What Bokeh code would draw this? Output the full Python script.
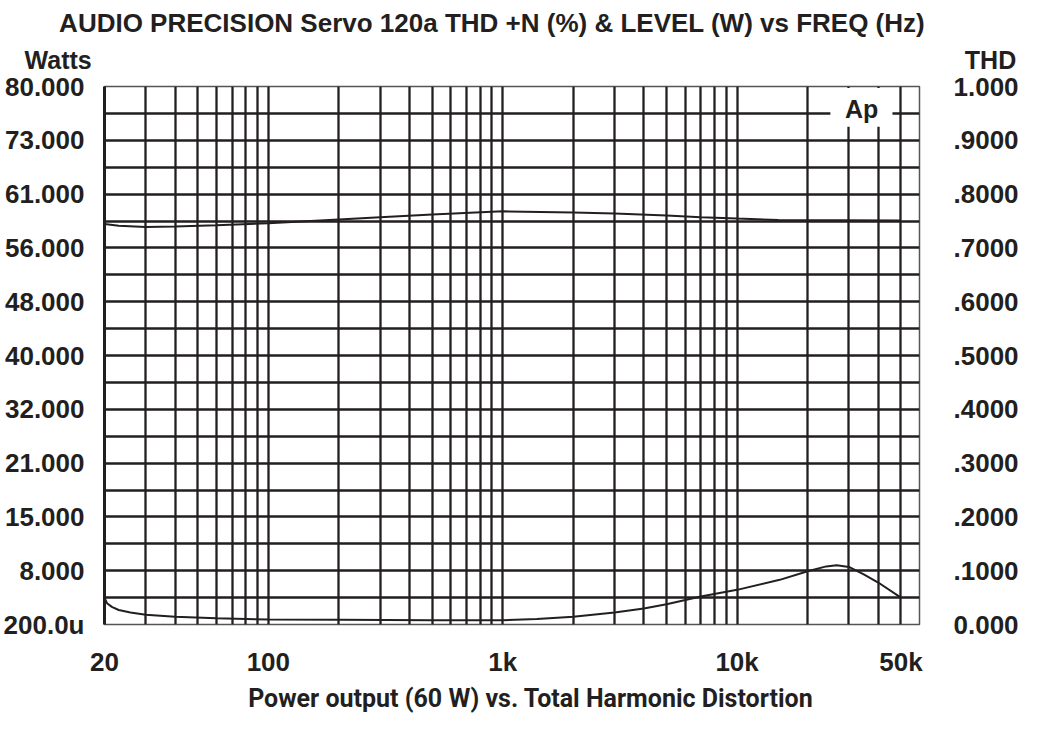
from bokeh.plotting import figure
from bokeh.models import FixedTicker, LinearAxis, Label, BoxAnnotation, Range1d
from bokeh.embed import file_html
from bokeh.resources import INLINE

# ---------------- data ----------------
level_freq = [20, 23, 30, 40, 60, 100, 200, 300, 500, 1000, 2000, 3000, 5000, 7000, 10000, 15000, 50000]
level_val = [0.7445, 0.741, 0.739, 0.740, 0.742, 0.746, 0.753, 0.757, 0.762, 0.768, 0.766, 0.764,
             0.760, 0.757, 0.7545, 0.752, 0.751]

thd_freq = [20, 20.5, 21.5, 23, 25.8, 30, 40, 60, 100, 200, 500, 1000, 1400, 2000, 3000, 4000, 5000,
            7000, 10000, 15200, 20000, 24000, 26600, 30000, 34700, 40000, 50000]
thd_val = [0.050, 0.0396, 0.0328, 0.027, 0.0223, 0.018, 0.0143, 0.0117, 0.0093, 0.0087, 0.008, 0.008,
           0.010, 0.0143, 0.0223, 0.0297, 0.0377, 0.052, 0.0644, 0.083, 0.099, 0.108, 0.110, 0.107,
           0.093, 0.078, 0.050]

x_tick_vals = [20, 100, 1000, 10000, 50000]
x_tick_labels = ["20", "100", "1k", "10k", "50k"]

y_tick_vals = [0.0, 0.1, 0.2, 0.3, 0.4, 0.5, 0.6, 0.7, 0.8, 0.9, 1.0]
watts_labels = ["200.0u", "8.000", "15.000", "21.000", "32.000", "40.000", "48.000", "56.000",
                "61.000", "73.000", "80.000"]
thd_labels = ["0.000", ".1000", ".2000", ".3000", ".4000", ".5000", ".6000", ".7000", ".8000",
              ".9000", "1.000"]

title_text = "AUDIO PRECISION Servo 120a  THD +N (%) & LEVEL (W) vs FREQ (Hz)"
left_unit = "Watts"
right_unit = "THD"
caption_text = "Power output (60 W) vs. Total Harmonic Distortion"

# ---------------- layout / styling ----------------
INK = "#231f20"
FONT = "Liberation Sans"
X0, X1 = 20, 60000
BL, BR, BT, BB = 95, 100, 85, 90          # borders round the frame
W, H = 1021, 714
FW, FH = W - BL - BR, H - BT - BB         # frame size (826 x 539)


def fx(px):
    """page-pixel column -> x data coordinate (for placing annotation texts)"""
    return X0 * (X1 / X0) ** ((px - 8 - BL) / FW)


def fy(py):
    """page-pixel row -> y data coordinate (for placing annotation texts)"""
    return (8 + BT + FH - py) / FH


grid_freqs = [m * 10 ** e for e in range(1, 5) for m in range(1, 10) if 20 <= m * 10 ** e <= 50000]
grid_y = [i / 20 for i in range(1, 20)]

p = figure(width=W, height=H, x_axis_type="log",
           x_range=Range1d(X0, X1), y_range=Range1d(0, 1),
           output_backend="svg", toolbar_location=None,
           min_border_left=BL, min_border_right=BR, min_border_top=BT, min_border_bottom=BB)
p.background_fill_color = "white"
p.border_fill_color = "white"
p.outline_line_color = "#555555"
p.outline_line_width = 1.5

p.xgrid.ticker = FixedTicker(ticks=grid_freqs)
p.ygrid.ticker = FixedTicker(ticks=grid_y)
for g in (p.xgrid, p.ygrid):
    g.grid_line_color = INK
    g.grid_line_width = 2.3
    g.grid_line_alpha = 1.0


def style_axis(ax, standoff):
    ax.major_tick_line_color = None
    ax.minor_tick_line_color = None
    ax.major_label_standoff = standoff
    ax.major_label_text_font = FONT
    ax.major_label_text_font_style = "bold"
    ax.major_label_text_font_size = "26px"
    ax.major_label_text_color = INK


xa = p.xaxis[0]
xa.ticker = FixedTicker(ticks=x_tick_vals)
xa.major_label_overrides = {v: s for v, s in zip(x_tick_vals, x_tick_labels)}
xa.axis_line_color = None
style_axis(xa, 16)

ya = p.yaxis[0]
ya.ticker = FixedTicker(ticks=y_tick_vals)
ya.major_label_overrides = {v: s for v, s in zip(y_tick_vals, watts_labels)}
ya.axis_line_color = INK
ya.axis_line_width = 3
style_axis(ya, 14)

ra = LinearAxis(ticker=FixedTicker(ticks=y_tick_vals),
                major_label_overrides={v: s for v, s in zip(y_tick_vals, thd_labels)})
ra.axis_line_color = None
style_axis(ra, 28)
p.add_layout(ra, "right")

p.line(level_freq, level_val, line_color=INK, line_width=2)
p.line(thd_freq, thd_val, line_color=INK, line_width=2)

p.add_layout(BoxAnnotation(left=25000, right=46000, bottom=0.925, top=0.997,
                           fill_color="white", fill_alpha=1.0, line_color=None))
p.add_layout(Label(x=34000, y=0.958, text="Ap", text_align="center", text_baseline="middle",
                   text_font=FONT, text_font_style="bold", text_font_size="25px", text_color=INK))


def outer_label(text, px, py, align, size, font=FONT):
    return Label(x=fx(px), y=fy(py), text=text, text_align=align, text_baseline="alphabetic",
                 text_font=font, text_font_style="bold", text_font_size=size, text_color=INK)


# texts outside the frame go into the side panels (not clipped there)
p.add_layout(outer_label(title_text, 57, 29, "left", "26px"), "above")
p.add_layout(outer_label(left_unit, 22, 66, "left", "25px"), "above")
p.add_layout(outer_label(right_unit, 1027, 66, "right", "25px"), "above")
p.add_layout(outer_label(caption_text, 535, 706, "center", "25px", font="Roboto"), "below")

open("out.html", "w").write(file_html(p, INLINE))
